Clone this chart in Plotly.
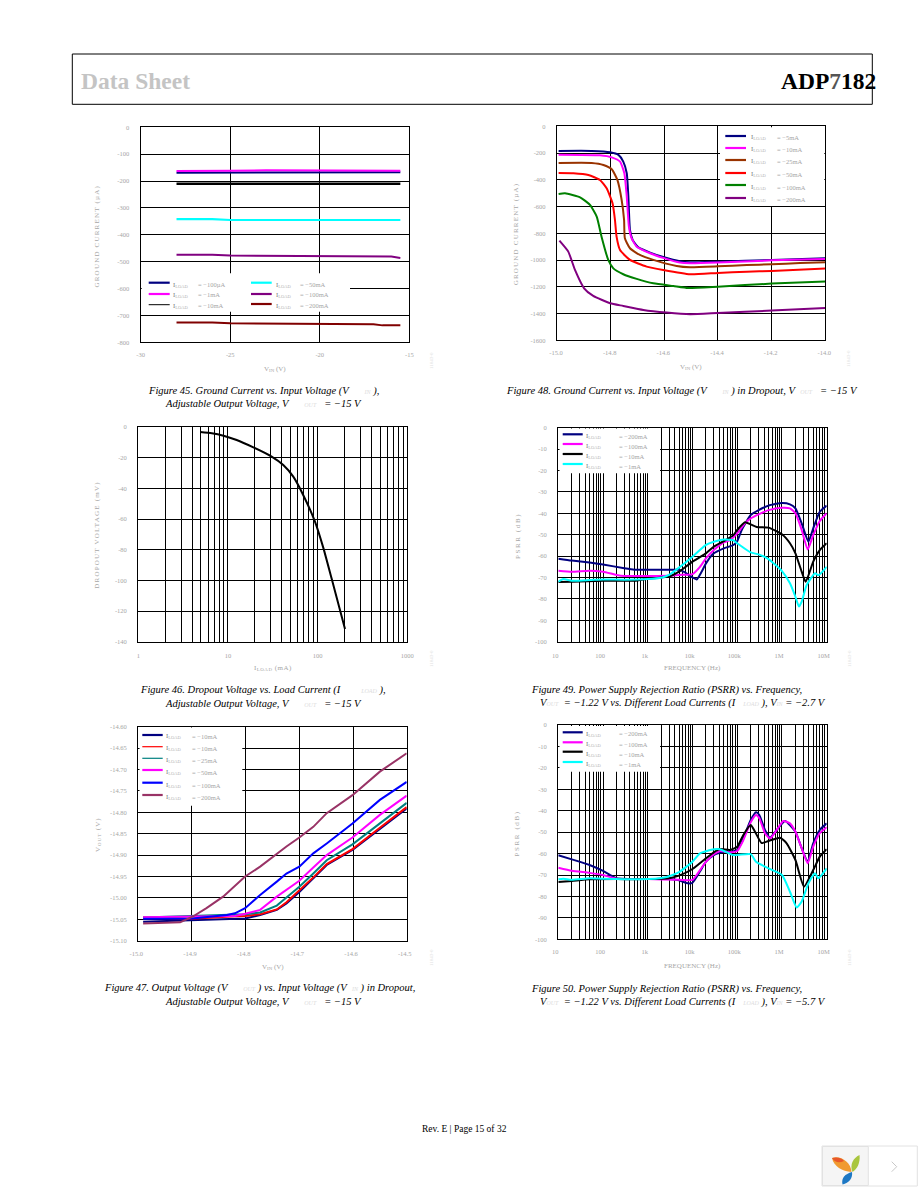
import plotly.graph_objects as go

W, H = 918, 1188
SERIF = "Liberation Serif"
TICK_GRAY = "#a6a6a6"
NAVY, MAGENTA, BLACK, CYAN = "#000080", "#ff00ff", "#000000", "#00ffff"

# ---------- Figure 45: ground current vs. input voltage ----------
f45_x = [-28.0, -26.0, -25.0, -23.0, -21.0, -20.0, -19.2, -17.0, -16.5, -16.0, -15.5]
f45_100uA = [-169, -169, -169, -169, -169, -169, -169, -169, -169, -169, -167]
f45_1mA = [-163, -163, -162, -160, -160, -160, -161, -162, -162, -162, -162]
f45_10mA = [-210, -210, -210, -210, -210, -210, -210, -210, -210, -210, -210]
f45_50mA = [-342, -342, -345, -345, -345, -345, -345, -345, -345, -345, -345]
f45_100mA = [-474, -474, -477, -478, -481, -481, -481, -481, -481, -481, -486]
f45_200mA = [-726, -726, -729, -730, -731, -731, -733, -733, -737, -737, -737]

# ---------- Figure 48: ground current vs. input voltage in dropout ----------
f48_5mA_x = [-14.994, -14.871, -14.802, -14.771, -14.753, -14.740, -14.734, -14.728, -14.718, -14.697, -14.653, -14.604, -14.542, -14.504, -14.401, -14.200, -14.0]
f48_5mA_y = [-184, -184, -194, -214, -264, -351, -526, -775, -850, -905, -944, -977, -1009, -1017, -1012, -999, -987]
f48_10mA_x = [-14.994, -14.840, -14.796, -14.765, -14.749, -14.740, -14.732, -14.722, -14.703, -14.653, -14.604, -14.542, -14.504, -14.401, -14.200, -14.0]
f48_10mA_y = [-212, -217, -232, -264, -351, -526, -750, -837, -900, -949, -984, -1019, -1024, -1019, -1002, -992]
f48_25mA_x = [-14.994, -14.871, -14.827, -14.796, -14.775, -14.759, -14.750, -14.747, -14.728, -14.691, -14.641, -14.554, -14.504, -14.401, -14.293, -14.200, -14.094, -14.0]
f48_25mA_y = [-274, -274, -289, -321, -401, -551, -700, -837, -912, -962, -999, -1044, -1054, -1047, -1037, -1032, -1022, -1017]
f48_50mA_x = [-14.994, -14.939, -14.883, -14.840, -14.815, -14.793, -14.784, -14.778, -14.765, -14.728, -14.666, -14.604, -14.504, -14.401, -14.293, -14.200, -14.0]
f48_50mA_y = [-349, -351, -364, -401, -464, -576, -700, -825, -925, -999, -1049, -1074, -1106, -1096, -1087, -1082, -1064]
f48_100mA_x = [-14.994, -14.970, -14.914, -14.877, -14.852, -14.834, -14.809, -14.790, -14.753, -14.703, -14.641, -14.566, -14.511, -14.401, -14.200, -14.0]
f48_100mA_y = [-506, -501, -531, -588, -675, -825, -999, -1062, -1106, -1141, -1174, -1194, -1209, -1199, -1176, -1161]
f48_200mA_x = [-14.991, -14.958, -14.933, -14.899, -14.865, -14.802, -14.753, -14.678, -14.591, -14.504, -14.401, -14.200, -14.0]
f48_200mA_y = [-855, -937, -1074, -1211, -1268, -1323, -1343, -1373, -1393, -1405, -1396, -1378, -1358]

# ---------- Figure 46: dropout voltage vs. load current ----------
f46_x = [4.9, 6.6, 8.9, 12.5, 19.2, 30.7, 41.4, 53.5, 69, 93.4, 116, 143, 202]
f46_y = [-3.3, -4.1, -5.7, -8.5, -13.3, -19.3, -24.8, -32.4, -44.3, -61.7, -79, -98.7, -131.7]

# ---------- Figure 47: output voltage vs. input voltage in dropout ----------
f47_x = [-14.991, -14.899, -14.820, -14.801, -14.773, -14.742, -14.724, -14.700, -14.674, -14.649, -14.601, -14.550, -14.5]
f47_a = [-15.056, -15.052, -15.050, -15.048, -15.040, -15.028, -15.013, -14.986, -14.954, -14.923, -14.888, -14.838, -14.791]
f47_b = [-15.046, -15.049, -15.043, -15.042, -15.038, -15.027, -15.010, -14.983, -14.952, -14.921, -14.886, -14.836, -14.788]
f47_c = [-15.046, -15.042, -15.040, -15.038, -15.034, -15.018, -14.999, -14.974, -14.943, -14.912, -14.875, -14.826, -14.778]
f47_d = [-15.045, -15.044, -15.042, -15.037, -15.028, -14.997, -14.982, -14.960, -14.929, -14.900, -14.859, -14.806, -14.761]
f47_e_x = [-14.991, -14.899, -14.835, -14.820, -14.801, -14.773, -14.742, -14.724, -14.700, -14.674, -14.649, -14.601, -14.550, -14.5]
f47_e = [-15.049, -15.048, -15.040, -15.036, -15.024, -14.993, -14.962, -14.943, -14.927, -14.896, -14.873, -14.826, -14.771, -14.729]
f47_f_x = [-14.991, -14.922, -14.899, -14.873, -14.842, -14.801, -14.773, -14.742, -14.724, -14.700, -14.674, -14.649, -14.601, -14.550, -14.5]
f47_f = [-15.060, -15.057, -15.044, -15.024, -14.997, -14.950, -14.927, -14.896, -14.880, -14.859, -14.834, -14.802, -14.760, -14.705, -14.662]

# ---------- Figure 49: PSRR, VIN = -2.7 V ----------
f49_200_x = [10, 20, 50, 100, 300, 500, 1e3, 3e3, 5e3, 6.8e3, 1e4, 1.24e4, 1.6e4, 2e4, 3e4, 5e4, 8.2e4, 1e5, 1.26e5, 2e5, 3e5, 5e5, 1e6, 1.51e6, 2e6, 2.76e6, 3.9e6, 5e6, 7e6, 1e7]
f49_200_y = [-61.2, -62.1, -63, -63.9, -65.7, -66.4, -66.4, -66.4, -66.4, -67.6, -70, -70.9, -67.3, -63.4, -58.7, -56.4, -54.8, -53, -47.8, -40.8, -38.5, -36.4, -35.2, -35.8, -37.7, -44.7, -53.3, -47, -39.3, -36.4]
f49_100_x = [10, 20, 50, 100, 200, 300, 1e3, 3e3, 5e3, 1e4, 1.47e4, 2e4, 3e4, 5e4, 6.9e4, 1e5, 1.49e5, 2e5, 3e5, 5e5, 1e6, 1.51e6, 2e6, 2.76e6, 3.76e6, 5e6, 7e6, 1e7]
f49_100_y = [-66.8, -67.3, -66.8, -67.3, -68.8, -69.3, -69.3, -69.2, -68.8, -68.4, -65, -61.1, -57.2, -53.6, -52.5, -49.4, -44.7, -42.4, -40.5, -38.5, -37.4, -37.7, -40, -47.8, -56.9, -50.2, -43.6, -40]
f49_10_x = [10, 20, 100, 500, 1e3, 2e3, 3e3, 5e3, 1e4, 2e4, 3e4, 5e4, 8.2e4, 1e5, 1.49e5, 2e5, 2.72e5, 5e5, 1e6, 1.51e6, 2e6, 2.76e6, 3.39e6, 5e6, 7e6, 1e7]
f49_10_y = [-72.1, -72, -71.5, -71.5, -70.6, -70, -69.6, -67.3, -62.6, -58.7, -55.6, -53, -50.2, -47.8, -44.2, -45.2, -46.4, -46.7, -49.8, -54, -58.7, -67.3, -72, -62.6, -57.2, -54]
f49_1_x = [10, 12.9, 20, 50, 100, 300, 1e3, 2e3, 3e3, 5e3, 1e4, 2e4, 3e4, 5e4, 8.2e4, 1e5, 2e5, 3e5, 5e5, 1e6, 1.51e6, 2e6, 2.4e6, 2.76e6, 3.57e6, 5.48e6, 6.5e6, 1e7]
f49_1_y = [-72, -70.7, -71.5, -71.2, -70.9, -71, -70.7, -70.1, -68.8, -65.4, -60.3, -54.8, -53.3, -52.3, -52.6, -54, -58.3, -59.2, -61.4, -67, -72.7, -79, -83.6, -81.3, -73.5, -68, -69, -65]

# ---------- Figure 50: PSRR, VIN = -5.7 V ----------
f50_200_x = [10, 20, 50, 100, 200, 1e3, 3e3, 5e3, 8e3, 1e4, 1.47e4, 2e4, 3e4, 5e4, 6.9e4, 1e5, 1.37e5, 2e5, 2.63e5, 3.12e5, 4.17e5, 5.41e5, 7.62e5, 1.17e6, 2e6, 2.76e6, 3.76e6, 5e6, 7e6, 1e7]
f50_200_y = [-60.8, -62.7, -65.3, -68.1, -71.5, -71.9, -71.9, -72.5, -73.9, -73.6, -68.4, -63.8, -60.7, -59.1, -59.1, -58.3, -52.9, -44.3, -40.7, -42, -49, -52.6, -49, -44.8, -49.8, -57.5, -63.8, -55.2, -49, -45.9]
f50_100_x = [10, 20, 50, 100, 200, 1e3, 5e3, 1e4, 1.47e4, 2e4, 3e4, 4.12e4, 6.9e4, 1e5, 1.37e5, 2e5, 2.63e5, 3.12e5, 4.17e5, 5.41e5, 7.62e5, 1.07e6, 1.51e6, 2e6, 2.76e6, 3.76e6, 5e6, 7e6, 1e7]
f50_100_y = [-66.6, -68, -69, -70, -71.7, -71.9, -72.2, -72.3, -67.7, -63.8, -60.3, -58.8, -59.4, -58.8, -53.7, -45.4, -42, -43.5, -50.5, -53, -49, -44.8, -45.9, -49.8, -57.5, -64.5, -56.8, -50.5, -47.7]
f50_10_x = [10, 20, 50, 1e3, 3e3, 5e3, 1e4, 2e4, 3e4, 4.12e4, 6.9e4, 1e5, 1.37e5, 2e5, 2.5e5, 3.52e5, 5e5, 9.04e5, 1.27e6, 2e6, 3.11e6, 5e6, 7e6, 1e7]
f50_10_y = [-73.3, -72.8, -72, -71.9, -71.5, -70.3, -67.2, -62.2, -59.4, -57.9, -58.3, -56.8, -51.3, -46.7, -49.8, -55.1, -54.1, -52.6, -55.2, -63, -75.4, -67.7, -61.4, -57.9]
f50_1_x = [10, 12.9, 20, 50, 100, 1e3, 2e3, 3e3, 5e3, 1e4, 1.47e4, 3e4, 4.12e4, 8.2e4, 2e5, 2.63e5, 5e5, 1e6, 1.51e6, 2.13e6, 2.76e6, 3.9e6, 5.48e6, 6.5e6, 1e7]
f50_1_y = [-72, -71.7, -72.2, -71.5, -71.7, -71.9, -71.4, -70.6, -68.7, -63.8, -59.9, -58, -58, -60.7, -60.3, -63.8, -66.9, -70, -77.8, -85.2, -82.4, -73.9, -69.2, -71.5, -66.9]

# ---------- Axis ticks ----------
f45_xticks = [-30, -25, -20, -15]
f45_yticks = [0, -100, -200, -300, -400, -500, -600, -700, -800]
f48_xticks = [-15.0, -14.8, -14.6, -14.4, -14.2, -14.0]
f48_xlabels = ["-15.0", "-14.8", "-14.6", "-14.4", "-14.2", "-14.0"]
f48_yticks = [0, -200, -400, -600, -800, -1000, -1200, -1400, -1600]
f46_xticks = [1, 10, 100, 1000]
f46_xlabels = ["1", "10", "100", "1000"]
f46_yticks = [0, -20, -40, -60, -80, -100, -120, -140]
f47_xticks = [-15.0, -14.9, -14.8, -14.7, -14.6, -14.5]
f47_xlabels = ["-15.0", "-14.9", "-14.8", "-14.7", "-14.6", "-14.5"]
f47_yticks = [-14.60, -14.65, -14.70, -14.75, -14.80, -14.85, -14.90, -14.95, -15.00, -15.05, -15.10]
f47_ylabels = ["-14.60", "-14.65", "-14.70", "-14.75", "-14.80", "-14.85", "-14.90", "-14.95", "-15.00", "-15.05", "-15.10"]
psrr_xticks = [10, 100, 1e3, 1e4, 1e5, 1e6, 1e7]
psrr_xlabels = ["10", "100", "1k", "10k", "100k", "1M", "10M"]
psrr_yticks = [0, -10, -20, -30, -40, -50, -60, -70, -80, -90, -100]


def px(x):
    return x / W


def py(y):
    return 1 - y / H


fig = go.Figure()
shapes, annos = [], []


def text(x, y, s, size=7, color=TICK_GRAY, anchor="left", angle=0, yanchor="middle"):
    annos.append(dict(x=px(x), y=py(y), xref="paper", yref="paper", text=s, showarrow=False,
                      xanchor=anchor, yanchor=yanchor, textangle=angle, align="left",
                      borderpad=0, borderwidth=0,
                      font=dict(family=SERIF, size=size, color=color)))


def rect(x0, y0, x1, y1, fill="white", line=None, lw=1):
    shapes.append(dict(type="rect", xref="paper", yref="paper", layer="above",
                       x0=px(x0), x1=px(x1), y0=py(y0), y1=py(y1), fillcolor=fill,
                       line=dict(color=line or "rgba(0,0,0,0)", width=lw)))


def seg(x0, y0, x1, y1, color, lw):
    shapes.append(dict(type="line", xref="paper", yref="paper", layer="above",
                       x0=px(x0), x1=px(x1), y0=py(y0), y1=py(y1),
                       line=dict(color=color, width=lw)))


def poly(path_pts, fill):
    s = ""
    for cmd, pts in path_pts:
        s += cmd + " " + " ".join(f"{px(a):.5f},{py(b):.5f}" for a, b in pts) + " "
    shapes.append(dict(type="path", xref="paper", yref="paper", layer="above", path=s + "Z",
                       fillcolor=fill, line=dict(width=0)))


def minor_vals(lo, hi):
    return [m * 10 ** d for d in range(lo, hi) for m in range(2, 10)]


def spaced(s, n):
    return f'<span style="letter-spacing:{n}px">{s}</span>'


def axes(i, box, xr, yr, xticks, xlabels, yticks, ylabels, xtitle, ytitle, log=False, xshift=0,
         xstand=6, ty=-41):
    x0, y0, x1, y1 = box
    sfx = "" if i == 1 else str(i)
    common = dict(showline=True, mirror=True, linecolor="black", linewidth=1.3, showgrid=True,
                  gridcolor="black", gridwidth=1, ticks="", zeroline=False, automargin=False,
                  tickmode="array", tickfont=dict(family=SERIF, size=6.5, color=TICK_GRAY))
    xa = dict(common, domain=[px(x0), px(x1)], anchor="y" + sfx, range=xr, tickvals=xticks,
              ticktext=xlabels, ticklabelstandoff=xstand, ticklabelshift=xshift)
    if log:
        xa.update(type="log", minor=dict(tickmode="array", tickvals=log, showgrid=True,
                                         gridcolor="black", gridwidth=1, ticks=""))
    ya = dict(common, domain=[py(y1), py(y0)], anchor="x" + sfx, range=yr, tickvals=yticks,
              ticktext=ylabels, ticklabelstandoff=9)
    fig.layout["xaxis" + sfx] = xa
    fig.layout["yaxis" + sfx] = ya
    text((x0 + x1) / 2, y1 + 26.5, xtitle, size=7, anchor="center")
    text(x0 + ty, (y0 + y1) / 2 + 1, ytitle, size=7, anchor="center", angle=-90)


def line(i, x, y, color, width=2.0, shape="linear"):
    sfx = "" if i == 1 else str(i)
    fig.add_trace(go.Scatter(x=x, y=y, mode="lines", xaxis="x" + sfx, yaxis="y" + sfx,
                             showlegend=False, hoverinfo="skip",
                             line=dict(color=color, width=width, shape=shape, smoothing=0.5)))


def legend(box, rows):
    rect(*box)
    for kx0, kx1, ky, tx, vx, ty, color, lw, val in rows:
        seg(kx0, ky, kx1, ky, color, lw)
        text(tx, ty, '<span style="color:#777">I</span><sub>LOAD</sub>', size=6.5, color="#b4b4b4")
        text(vx, ty, "= " + val, size=6.5)


sub = lambda s: f'<span style="color:#dcdcdc;font-size:6px">{s}</span>'
NB = "\u00a0"

# ---------- 1: Figure 45 ----------
axes(1, (140.7, 127.3, 409.3, 342.3), [-30, -15], [-800, 0], f45_xticks,
     [str(v) for v in f45_xticks], f45_yticks, [str(v) for v in f45_yticks],
     "V<sub>IN</sub> (V)", spaced("GROUND CURRENT (µA)", 1.2), ty=-44)
for s, c, w in [(f45_100uA, NAVY, 2.0), (f45_1mA, MAGENTA, 2.0), (f45_10mA, BLACK, 2.4),
                (f45_50mA, CYAN, 2.2), (f45_100mA, "#800080", 2.0), (f45_200mA, "#800000", 2.0)]:
    line(1, f45_x, s, c, w)
legend((141.7, 273.3, 350, 311.7), [
    (148.7, 169.7, 282.7, 172.7, 198.3, 285, NAVY, 2.2, "−100µA"),
    (148.7, 169.7, 294, 172.7, 198.3, 295, MAGENTA, 2.2, "−1mA"),
    (148.7, 169.7, 304.7, 172.7, 198.3, 305.7, BLACK, 1, "−10mA"),
    (251, 271.7, 282.7, 275.7, 300, 285, CYAN, 2.2, "−50mA"),
    (251, 271.7, 294, 275.7, 300, 295, "#800080", 2.2, "−100mA"),
    (251, 271.7, 304, 275.7, 300, 305.7, "#800000", 2.2, "−200mA"),
])

# ---------- 2: Figure 48 ----------
axes(2, (557, 126.3, 825.3, 340.3), [-15, -14], [-1600, 0], f48_xticks, f48_xlabels,
     f48_yticks, [str(v) for v in f48_yticks], "V<sub>IN</sub> (V)",
     spaced("GROUND CURRENT (µA)", 1.2), xshift=-1)
for x, y, c in [(f48_5mA_x, f48_5mA_y, NAVY), (f48_10mA_x, f48_10mA_y, MAGENTA),
                (f48_25mA_x, f48_25mA_y, "#993300"), (f48_50mA_x, f48_50mA_y, "#ff0000"),
                (f48_100mA_x, f48_100mA_y, "#008000"), (f48_200mA_x, f48_200mA_y, "#800080")]:
    line(2, x, y, c, 2.0, "spline")
kx = (725.3, 746, 750.7, 776.7)
legend((720, 127.3, 824.3, 206), [
    (kx[0], kx[1], 136, kx[2], kx[3], 137.3, NAVY, 2.2, "−5mA"),
    (kx[0], kx[1], 148, kx[2], kx[3], 149.3, MAGENTA, 2.2, "−10mA"),
    (kx[0], kx[1], 160, kx[2], kx[3], 161.3, "#993300", 2.2, "−25mA"),
    (kx[0], kx[1], 173, kx[2], kx[3], 174.3, "#ff0000", 2.2, "−50mA"),
    (kx[0], kx[1], 185, kx[2], kx[3], 187, "#008000", 2.2, "−100mA"),
    (kx[0], kx[1], 198, kx[2], kx[3], 199.3, "#800080", 2.2, "−200mA"),
])

# ---------- 3: Figure 46 ----------
axes(3, (138.3, 427, 407.3, 641.7), [0, 3], [-140, 0], f46_xticks, f46_xlabels,
     f46_yticks, [str(v) for v in f46_yticks], spaced("I<sub>LOAD</sub> (mA)", 0.5),
     spaced("DROPOUT VOLTAGE (mV)", 1.2), log=minor_vals(0, 3), xstand=7)
line(3, f46_x, f46_y, BLACK, 2.0, "spline")

# ---------- 4: Figure 49 ----------
PSRR_T = spaced("PSRR (dB)", 1.6)
axes(4, (558.3, 427.7, 826.7, 641.7), [1, 7], [-100, 0], psrr_xticks, psrr_xlabels,
     psrr_yticks, [str(v) for v in psrr_yticks], "FREQUENCY (Hz)", PSRR_T,
     log=minor_vals(1, 7), xshift=-3, xstand=7)
for x, y, c in [(f49_200_x, f49_200_y, NAVY), (f49_100_x, f49_100_y, MAGENTA),
                (f49_10_x, f49_10_y, BLACK), (f49_1_x, f49_1_y, CYAN)]:
    line(4, x, y, c, 2.0, "spline")
kx = (562.7, 582.7, 586, 619.3)
legend((559.5, 428.5, 660, 473.3), [
    (kx[0], kx[1], 434.3, kx[2], kx[3], 436, NAVY, 2.2, "−200mA"),
    (kx[0], kx[1], 444, kx[2], kx[3], 446, MAGENTA, 2.2, "−100mA"),
    (kx[0], kx[1], 454, kx[2], kx[3], 456, BLACK, 2.2, "−10mA"),
    (kx[0], kx[1], 464, kx[2], kx[3], 466, CYAN, 2.2, "−1mA"),
])

# ---------- 5: Figure 47 ----------
axes(5, (138.3, 726.7, 406.7, 940.7), [-15, -14.5], [-15.1, -14.6], f47_xticks, f47_xlabels,
     f47_yticks, f47_ylabels, "V<sub>IN</sub> (V)", spaced("V<sub>OUT</sub> (V)", 1.0), xshift=-2)
for x, y, c in [(f47_x, f47_a, NAVY), (f47_x, f47_b, "#ff0000"), (f47_x, f47_c, "#008080"),
                (f47_x, f47_d, MAGENTA), (f47_e_x, f47_e, "#0000ff"), (f47_f_x, f47_f, "#993366")]:
    line(5, x, y, c, 2.0)
kx = (142.3, 162.7, 166, 191.7)
legend((139.5, 727.5, 242.3, 805.7), [
    (kx[0], kx[1], 735, kx[2], kx[3], 736.3, NAVY, 2.2, "−10mA"),
    (kx[0], kx[1], 746.7, kx[2], kx[3], 748.3, "#ff0000", 1.2, "−10mA"),
    (kx[0], kx[1], 758.3, kx[2], kx[3], 760.3, "#008080", 1.2, "−25mA"),
    (kx[0], kx[1], 770, kx[2], kx[3], 772.3, MAGENTA, 2.2, "−50mA"),
    (kx[0], kx[1], 782.7, kx[2], kx[3], 785, "#0000ff", 2.2, "−100mA"),
    (kx[0], kx[1], 795, kx[2], kx[3], 797, "#993366", 2.2, "−200mA"),
])

# ---------- 6: Figure 50 ----------
axes(6, (558.3, 725, 826.7, 939.3), [1, 7], [-100, 0], psrr_xticks, psrr_xlabels,
     psrr_yticks, [str(v) for v in psrr_yticks], "FREQUENCY (Hz)", PSRR_T,
     log=minor_vals(1, 7), xshift=-3)
for x, y, c in [(f50_200_x, f50_200_y, NAVY), (f50_100_x, f50_100_y, MAGENTA),
                (f50_10_x, f50_10_y, BLACK), (f50_1_x, f50_1_y, CYAN)]:
    line(6, x, y, c, 2.0, "spline")
kx = (562.7, 582.7, 586, 619.3)
legend((559.5, 726, 660, 771.7), [
    (kx[0], kx[1], 732.3, kx[2], kx[3], 733.7, NAVY, 2.2, "−200mA"),
    (kx[0], kx[1], 742.3, kx[2], kx[3], 744, MAGENTA, 2.2, "−100mA"),
    (kx[0], kx[1], 751.7, kx[2], kx[3], 754, BLACK, 2.2, "−10mA"),
    (kx[0], kx[1], 762, kx[2], kx[3], 764, CYAN, 2.2, "−1mA"),
])

# ---------- Page furniture ----------
rect(72.3, 54, 872.3, 104.3, fill="rgba(0,0,0,0)", line="black", lw=1)
text(80.7, 80.7, "<b>Data Sheet</b>", size=23.5, color="#c4c4c4")
text(876, 80.7, '<b>ADP<span style="color:#555">7</span>182</b>', size=23.5, color="black", anchor="right")


def caption(cx, y, s):
    text(cx, y, "<i>" + s + "</i>", size=10.5, color="black", anchor="center")


def gap(label, left, right):
    return NB * left + sub(label) + NB * right


caption(263, 390.7, f"Figure 45. Ground Current vs. Input Voltage (V{gap('IN', 6, 1)}),")
caption(263.5, 403.7, f"Adjustable Output Voltage, V{gap('OUT', 6, 2)} = −15 V")
caption(682, 390.7, f"Figure 48. Ground Current vs. Input Voltage (V{gap('IN', 6, 1)}) in Dropout, V{gap('OUT', 2, 2)} = −15 V")
caption(262.5, 690, f"Figure 46. Dropout Voltage vs. Load Current (I{gap('LOAD', 8, 1)}),")
caption(263, 703, f"Adjustable Output Voltage, V{gap('OUT', 6, 2)} = −15 V")
caption(666, 690, "Figure 49. Power Supply Rejection Ratio (PSRR) vs. Frequency,")
caption(683, 703, f"V{gap('OUT', 0, 1)} = −1.22 V vs. Different Load Currents (I{gap('LOAD', 3, 1)}), V{gap('IN', 0, 0)} = −2.7 V")
caption(259, 988, f"Figure 47. Output Voltage (V{gap('OUT', 6, 1)}) vs. Input Voltage (V{gap('IN', 2, 1)}) in Dropout,")
caption(263, 1001, f"Adjustable Output Voltage, V{gap('OUT', 6, 2)} = −15 V")
caption(666, 989, "Figure 50. Power Supply Rejection Ratio (PSRR) vs. Frequency,")
caption(683, 1001.7, f"V{gap('OUT', 0, 1)} = −1.22 V vs. Different Load Currents (I{gap('LOAD', 3, 1)}), V{gap('IN', 0, 0)} = −5.7 V")
text(464.5, 1128.7, "Rev. E | Page 15 of 32", size=9.5, color="black", anchor="center")

for sx, sy in [(431, 361), (849, 359), (431, 659), (849, 659), (431, 958), (849, 958)]:
    text(sx, sy, "11043-0", size=5, color="#e2e2e2", anchor="center", angle=-90)

# Badge bottom right
rect(822, 1146, 917.3, 1186, fill="white", line="#e2e2e2", lw=1)
rect(822.5, 1146.5, 868.3, 1185.5, fill="#f5f5f5", line="#e2e2e2", lw=1)
poly([("M", [(832, 1158)]), ("C", [(840, 1155), (851, 1162), (851.5, 1172)]),
      ("C", [(842, 1171), (834, 1167), (832, 1158)])], "#f09a30")
poly([("M", [(832, 1158)]), ("C", [(837, 1156.5), (842, 1158), (844, 1161)]),
      ("C", [(840, 1163), (835, 1163), (832, 1158)])], "#e8582a")
poly([("M", [(859.5, 1155)]), ("C", [(860.5, 1163), (857, 1169), (852.5, 1172)]),
      ("C", [(849.5, 1165), (853, 1158), (859.5, 1155)])], "#a9c63e")
poly([("M", [(852, 1172)]), ("C", [(853, 1178), (849, 1183), (842.5, 1184.5)]),
      ("C", [(841, 1178), (845, 1174), (852, 1172)])], "#1d78c4")
shapes.append(dict(type="path", xref="paper", yref="paper", layer="above",
                   path=f"M {px(891.7)},{py(1161.7)} L {px(896.7)},{py(1166.7)} L {px(891.7)},{py(1171.7)}",
                   line=dict(color="#c8c8c8", width=1)))

fig.update_layout(width=W, height=H, margin=dict(l=0, r=0, t=0, b=0), paper_bgcolor="white",
                  plot_bgcolor="white", showlegend=False, shapes=shapes, annotations=annos,
                  font=dict(family=SERIF))
fig.write_html("out.html", config=dict(displayModeBar=False),
               post_script="document.body.style.margin='0';document.body.style.overflow='hidden';")
